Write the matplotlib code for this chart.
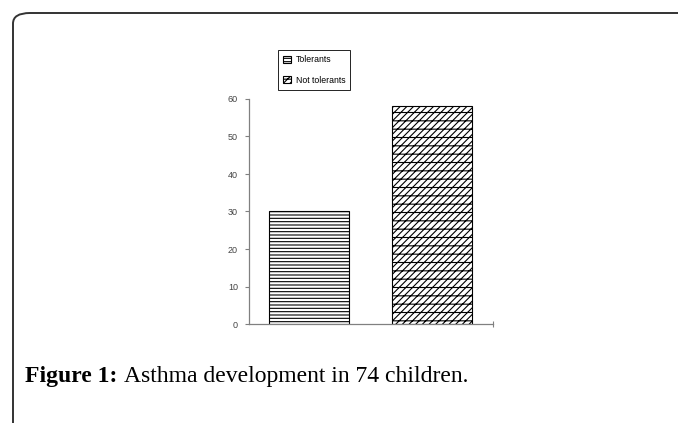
import matplotlib
matplotlib.use("Agg")
import matplotlib.pyplot as plt
from matplotlib.patches import FancyBboxPatch, Patch

# data
groups = ["Tolerants", "Not tolerants"]
counts = [30, 58]
hatches = ["-----", "/////--"]
yticks = [0, 10, 20, 30, 40, 50, 60]

plt.rcParams["hatch.linewidth"] = 0.8
sans = ["Liberation Sans", "DejaVu Sans"]

fig = plt.figure(figsize=(6.78, 4.23), dpi=100)

# rounded outer frame (cut off at right and bottom)
frame = FancyBboxPatch((13 / 678, -0.2), 1.2, 1.2 - 13 / 423,
                       boxstyle="round,pad=0,rounding_size=0.025",
                       transform=fig.transFigure, fill=False,
                       edgecolor="#333333", linewidth=1.4)
fig.patches.append(frame)

ax = fig.add_axes([249 / 678, 99 / 423, 244 / 678, 225 / 423])
x = [0, 1]
for xi, c, h in zip(x, counts, hatches):
    ax.bar(xi, c, width=0.653, color="white", edgecolor="black",
           hatch=h, linewidth=0.8)

ax.set_xlim(-0.49, 1.502)
ax.set_ylim(0, 60)
ax.set_yticks(yticks)
ax.set_xticks([1.502])
ax.set_xticklabels([])
ax.tick_params(axis="x", direction="inout", length=5, color="#808080", width=0.8)
ax.tick_params(axis="y", direction="out", length=3, color="#808080", width=0.8,
               labelsize=6.5, labelcolor="#444444", pad=5)
for lab in ax.get_yticklabels():
    lab.set_family(sans)
for s in ["top", "right"]:
    ax.spines[s].set_visible(False)
for s in ["left", "bottom"]:
    ax.spines[s].set_color("#808080")
    ax.spines[s].set_linewidth(0.9)

handles = [Patch(facecolor="white", edgecolor="black", hatch=h, linewidth=0.8)
           for h in hatches]
leg = fig.legend(handles, groups, loc="upper left",
                 bbox_to_anchor=(278 / 678, 1 - 50 / 423),
                 fancybox=False, edgecolor="black", framealpha=1,
                 handlelength=0.9, handleheight=0.9, handletextpad=0.5,
                 borderpad=0.6, labelspacing=1.3, borderaxespad=0,
                 prop={"family": sans, "size": 6.3})
leg.get_frame().set_linewidth(0.6)

# caption: bold label followed by normal text
base_y = 1 - 382 / 423
t1 = fig.text(25 / 678, base_y, "Figure 1:", fontsize=17, fontweight="bold",
              family="Liberation Serif", va="baseline")
fig.canvas.draw()
bb = t1.get_window_extent()
fig.text(bb.x1 / fig.bbox.width + 7 / 678, base_y,
         "Asthma development in 74 children.",
         fontsize=17, family="Liberation Serif", va="baseline")

fig.savefig("out.png", dpi=100)
